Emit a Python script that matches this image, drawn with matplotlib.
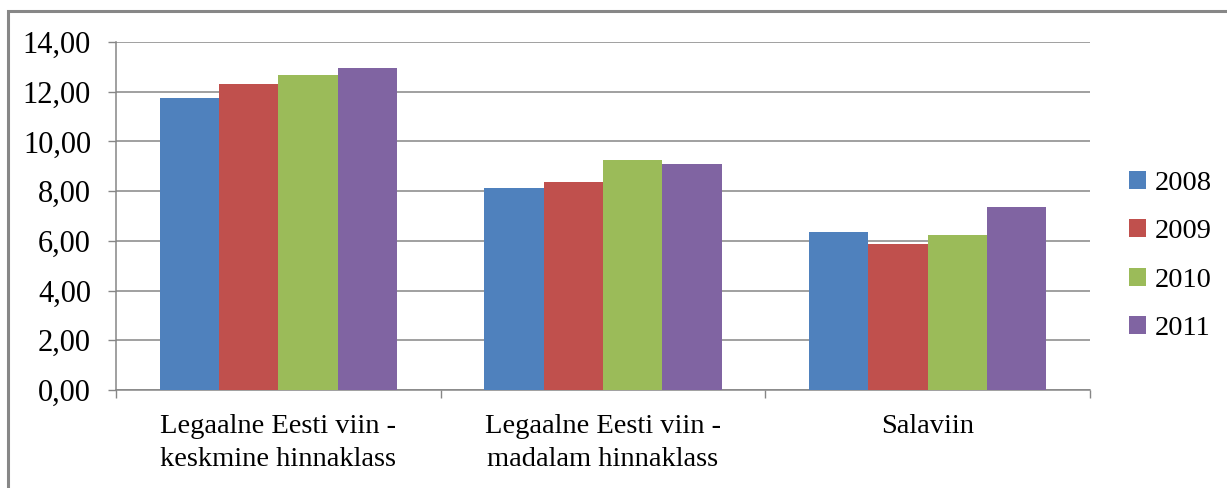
import matplotlib
matplotlib.use("Agg")
import matplotlib.pyplot as plt
import numpy as np
from matplotlib.patches import Rectangle
from matplotlib.ticker import FuncFormatter, FixedLocator

plt.rcParams["font.family"] = ["Liberation Serif", "DejaVu Serif"]

# Average price per category and year
categories = ["Legaalne Eesti viin -\nkeskmine hinnaklass",
              "Legaalne Eesti viin -\nmadalam hinnaklass",
              "Salaviin"]
years = ["2008", "2009", "2010", "2011"]
v2008 = [11.73, 8.13, 6.35]
v2009 = [12.33, 8.37, 5.87]
v2010 = [12.66, 9.26, 6.23]
v2011 = [12.94, 9.10, 7.36]
colors = ["#4F81BD", "#C0504D", "#9BBB59", "#8064A2"]

grey = "#868686"
fs = 20.5

fig = plt.figure(figsize=(12.27, 4.88), dpi=100)
ax = fig.add_axes([116 / 1227, 98 / 488, 974 / 1227, 348 / 488])

x = np.arange(len(categories))
w = 0.1825
for i, (vals, col, yr) in enumerate(zip([v2008, v2009, v2010, v2011], colors, years)):
    ax.bar(x + (i - 1.5) * w, vals, width=w, color=col, label=yr, zorder=3)

ax.set_xlim(-0.5, len(categories) - 0.5)
ax.set_ylim(0, 14)
ax.set_yticks(np.arange(0, 15, 2))
ax.yaxis.set_major_formatter(FuncFormatter(lambda v, p: f"{v:.2f}".replace(".", ",")))
ax.grid(axis="y", color=grey, linewidth=1.1, zorder=0)

# category boundaries get the tick marks, labels sit in the middle
ax.xaxis.set_major_locator(FixedLocator([-0.5, 0.5, 1.5, 2.5]))
ax.xaxis.set_major_formatter(FuncFormatter(lambda v, p: ""))
ax.xaxis.set_minor_locator(FixedLocator(x))
ax.set_xticklabels(categories, minor=True, fontsize=fs, linespacing=1.45)
ax.tick_params(axis="x", which="major", length=6, width=1, color=grey, direction="out")
ax.tick_params(axis="x", which="minor", length=0, pad=17)
ax.tick_params(axis="y", length=6, width=1, color=grey, labelsize=22, pad=12)

for side in ["top", "right"]:
    ax.spines[side].set_visible(False)
for side in ["left", "bottom"]:
    ax.spines[side].set_color(grey)
    ax.spines[side].set_linewidth(1.1)

ax.legend(loc="center left", bbox_to_anchor=(1129 / 1227, 1 - 256 / 488),
          bbox_transform=fig.transFigure, frameon=False, fontsize=fs,
          handlelength=0.6, handleheight=0.6, handletextpad=0.3,
          labelspacing=0.82, borderpad=0, borderaxespad=0)

# outer chart border
fig.patches.append(Rectangle((7.5 / 1227, -0.1), 1.2, 1.1 - 11.5 / 488,
                             transform=fig.transFigure, fill=False,
                             edgecolor="#878787", linewidth=2.2))

fig.savefig("out.png", dpi=100)
